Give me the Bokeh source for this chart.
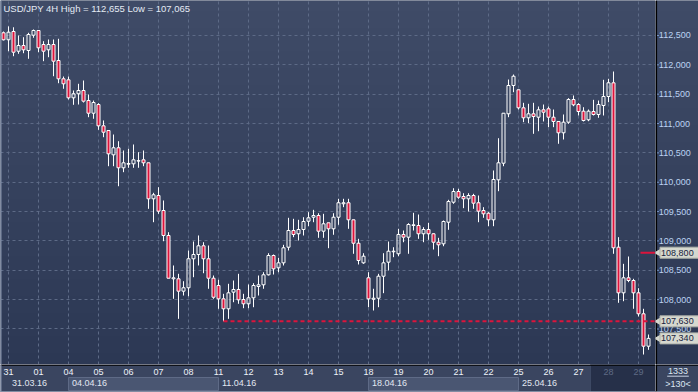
import numpy as np
from bokeh.plotting import figure
from bokeh.models import Range1d, FixedTicker, Label, Grid, ColumnDataSource
from bokeh.layouts import column, row
from bokeh.embed import file_html
from bokeh.resources import INLINE
from bokeh.core.properties import value

# ---------------- data ----------------
symbol = "USD/JPY"
timeframe = "4H"
opens = [112.546, 112.427, 112.568, 112.232, 112.329, 112.244, 112.505, 112.585, 112.346, 112.256,
         112.346, 112.074, 111.762, 111.745, 111.438, 111.507, 111.563, 111.392, 111.176, 111.324,
         110.961, 110.881, 110.467, 110.587, 110.246, 110.307, 110.314, 110.360, 110.382, 110.331,
         109.718, 109.774, 109.518, 109.093, 108.355, 108.355, 108.144, 108.202, 108.696, 108.769,
         108.917, 108.696, 108.365, 108.241, 108.014, 107.844, 108.127, 108.173, 108.002, 107.929,
         108.031, 108.224, 108.253, 108.423, 108.752, 108.542, 108.627, 108.893, 109.178, 109.122,
         109.195, 109.336, 109.404, 109.433, 109.166, 109.309, 109.207, 109.404, 109.633, 109.650,
         109.360, 108.961, 108.627, 108.372, 108.007, 108.024, 108.399, 108.638, 108.815, 108.781,
         109.110, 109.064, 109.263, 109.263, 109.122, 109.195, 109.122, 108.978, 108.951, 109.319,
         109.660, 109.842, 109.757, 109.718, 109.774, 109.650, 109.518, 109.472, 109.360, 110.041,
         110.324, 111.166, 111.648, 111.575, 111.268, 111.098, 111.166, 111.108, 111.234, 111.251,
         111.108, 111.035, 110.842, 111.023, 111.409, 111.324, 111.210, 111.064, 111.205, 111.154,
         111.307, 111.461, 111.694, 108.893, 108.116, 108.372, 108.326, 108.116, 107.759, 107.207]
highs = [112.568, 112.655, 112.640, 112.500, 112.471, 112.546, 112.602, 112.590, 112.403, 112.432,
         112.432, 112.444, 111.801, 111.801, 111.563, 111.677, 111.733, 111.495, 111.392, 111.346,
         111.052, 110.885, 110.813, 110.699, 110.541, 110.570, 110.643, 110.512, 110.541, 110.335,
         109.820, 109.915, 109.689, 109.149, 108.582, 108.440, 108.314, 108.837, 108.990, 109.093,
         108.978, 108.922, 108.411, 108.338, 108.099, 108.270, 108.326, 108.440, 108.099, 108.258,
         108.280, 108.411, 108.467, 108.791, 108.769, 108.713, 108.934, 109.394, 109.377, 109.360,
         109.404, 109.490, 109.530, 109.472, 109.462, 109.312, 109.472, 109.718, 109.718, 109.718,
         109.365, 109.036, 108.791, 108.467, 108.185, 108.440, 108.791, 108.990, 108.893, 109.207,
         109.178, 109.302, 109.479, 109.450, 109.234, 109.309, 109.132, 109.053, 109.348, 109.701,
         109.898, 109.888, 109.813, 109.813, 109.803, 109.774, 109.575, 109.490, 110.200, 110.750,
         111.180, 111.750, 111.835, 111.580, 111.353, 111.336, 111.353, 111.290, 111.324, 111.290,
         111.239, 111.040, 111.154, 111.432, 111.478, 111.346, 111.278, 111.239, 111.404, 111.392,
         111.745, 111.762, 111.886, 109.064, 108.610, 108.735, 108.355, 108.195, 107.844, 107.406]
lows = [112.415, 112.232, 112.147, 112.188, 112.198, 112.103, 112.461, 112.215, 112.062, 112.130,
        111.806, 111.687, 111.592, 111.409, 111.319, 111.324, 111.358, 111.108, 111.081, 110.893,
        110.767, 110.273, 110.273, 109.932, 110.171, 110.246, 110.246, 110.246, 110.273, 109.547,
        109.319, 109.462, 108.995, 108.360, 108.014, 107.673, 108.070, 108.058, 108.382, 108.582,
        108.450, 108.185, 108.014, 107.844, 107.630, 107.673, 107.956, 107.929, 107.854, 107.854,
        107.871, 108.070, 108.185, 108.411, 108.428, 108.467, 108.582, 108.837, 109.064, 109.007,
        109.093, 109.251, 109.319, 109.053, 109.053, 108.876, 109.105, 109.275, 109.575, 109.207,
        108.781, 108.599, 108.610, 107.871, 107.815, 107.871, 108.110, 108.496, 108.723, 108.740,
        108.978, 108.781, 109.178, 109.036, 108.978, 109.019, 108.854, 108.740, 108.910, 109.190,
        109.633, 109.718, 109.558, 109.501, 109.547, 109.319, 109.394, 109.251, 109.251, 109.847,
        110.273, 111.108, 111.534, 111.239, 111.023, 111.006, 110.825, 110.869, 111.035, 110.938,
        110.938, 110.655, 110.728, 110.995, 111.295, 111.137, 111.035, 111.040, 111.137, 111.098,
        111.137, 111.363, 108.781, 107.946, 107.973, 108.297, 107.844, 107.713, 107.065, 107.145]
closes = [112.427, 112.556, 112.215, 112.329, 112.256, 112.517, 112.585, 112.290, 112.232, 112.346,
          112.062, 111.762, 111.677, 111.438, 111.507, 111.563, 111.381, 111.176, 111.358, 110.961,
          110.852, 110.484, 110.587, 110.246, 110.331, 110.319, 110.382, 110.368, 110.331, 109.718,
          109.786, 109.507, 109.093, 108.365, 108.372, 108.144, 108.202, 108.696, 108.769, 108.917,
          108.696, 108.365, 108.041, 108.014, 107.844, 108.116, 108.173, 107.997, 107.929, 108.031,
          108.241, 108.253, 108.423, 108.752, 108.525, 108.627, 108.883, 109.178, 109.110, 109.195,
          109.331, 109.394, 109.433, 109.166, 109.292, 109.207, 109.404, 109.650, 109.650, 109.360,
          108.961, 108.667, 108.740, 108.014, 108.024, 108.399, 108.627, 108.825, 108.825, 109.110,
          109.064, 109.280, 109.275, 109.122, 109.195, 109.122, 108.978, 108.934, 109.331, 109.672,
          109.842, 109.745, 109.718, 109.774, 109.643, 109.507, 109.462, 109.360, 110.047, 110.331,
          111.176, 111.648, 111.806, 111.268, 111.098, 111.166, 111.120, 111.234, 111.193, 111.108,
          111.035, 110.842, 111.023, 111.409, 111.319, 111.205, 111.052, 111.210, 111.154, 111.324,
          111.461, 111.694, 108.883, 108.116, 108.372, 108.326, 108.116, 107.759, 107.207, 107.340]

day_labels = ["31", "01", "04", "05", "06", "07", "08", "11", "12", "13", "14", "15",
              "18", "19", "20", "21", "22", "25", "26", "27", "28", "29"]
week_labels = ["31.03.16", "04.04.16", "11.04.16", "18.04.16", "25.04.16"]
week_first_day = [0, 2, 7, 12, 17]          # index into day_labels
price_ticks = [107.5, 108.0, 108.5, 109.0, 109.5, 110.0, 110.5, 111.0, 111.5, 112.0, 112.5]
support_level = 107.630
support_from_bar = 44
marker_level = 108.800
total_bars = 1333

# ---------------- style / layout ----------------
FONT = "Liberation Sans"
RED = "#dc143c"
BG_TOP = (63, 75, 103)
BG_BOT = (44, 56, 84)
BG_MID = "#36425f"
STRIP = "#3a4560"
GRID = "#5d6a86"
TAG = "#d6d8cf"
AXIS_TXT = "#bcd3f2"

n = len(closes)
bars = list(range(n))
bars_per_day = 6
day_pos = [1 + bars_per_day * j for j in range(len(day_labels))]
X0, X1 = -0.6, n + 0.4
Y0, Y1 = 106.895, 113.096
MAIN_W, AX_W, MAIN_H, STRIP_H = 655, 43, 364, 28

def fmt(v):
    return f"{v:.3f}".replace(".", ",")

def gradient_image(fig, x0, x1):
    H = 64
    img = np.zeros((H, 2), dtype=np.uint32)
    view = img.view(dtype=np.uint8).reshape((H, 2, 4))
    for i in range(H):
        t = i / (H - 1)
        for ch in range(3):
            view[i, :, ch] = int(round(BG_BOT[ch] + (BG_TOP[ch] - BG_BOT[ch]) * t))
        view[i, :, 3] = 255
    fig.image_rgba(image=[img], x=x0, y=Y0, dw=x1 - x0, dh=Y1 - Y0, level="image")

def bare(fig, bg):
    fig.background_fill_color = bg
    fig.border_fill_color = bg
    fig.outline_line_color = None
    fig.grid.visible = False

# ---------------- main price panel ----------------
p = figure(width=MAIN_W, height=MAIN_H, x_range=Range1d(X0, X1), y_range=Range1d(Y0, Y1),
           output_backend="svg", toolbar_location=None, x_axis_location=None,
           y_axis_location=None, min_border=0)
bare(p, BG_MID)
gradient_image(p, X0, X1)

p.add_layout(Grid(dimension=0, ticker=FixedTicker(ticks=day_pos), grid_line_color=GRID,
                  grid_line_dash="3 3", grid_line_width=1))
p.add_layout(Grid(dimension=1, ticker=FixedTicker(ticks=price_ticks), grid_line_color=GRID,
                  grid_line_dash="3 3", grid_line_width=1))

body_top = [max(o, c) for o, c in zip(opens, closes)]
body_bot = [min(o, c) for o, c in zip(opens, closes)]
down = [c < o for o, c in zip(opens, closes)]
src = ColumnDataSource(dict(x=bars, high=highs, low=lows, top=body_top, bot=body_bot,
                            fill=[RED if d else BG_MID for d in down],
                            alpha=[1.0 if d else 0.0 for d in down]))
p.segment(x0="x", y0="high", x1="x", y1="top", source=src, line_color="white", line_width=1)
p.segment(x0="x", y0="bot", x1="x", y1="low", source=src, line_color="white", line_width=1)
p.vbar(x="x", top="top", bottom="bot", width=0.6, source=src, fill_color="fill",
       fill_alpha="alpha", line_color="white", line_width=1)

p.segment(x0=[support_from_bar], y0=[support_level], x1=[X1], y1=[support_level],
          line_color=RED, line_width=2, line_dash="4 3")
p.segment(x0=[n - 2.6], y0=[marker_level], x1=[X1], y1=[marker_level],
          line_color=RED, line_width=2)
p.segment(x0=[X0], y0=[Y0], x1=[X0], y1=[Y1], line_color="#8391ab", line_width=2)

title_y = Y1 - (Y1 - Y0) * 8.3 / MAIN_H
p.add_layout(Label(x=X0, y=title_y, x_offset=3,
                   text=f"{symbol} {timeframe} High = {fmt(max(highs))} Low = {fmt(min(lows))}",
                   text_font=FONT, text_font_size="9.5px", text_color="#e4eaf4",
                   text_baseline="middle", text_align="left"))

# ---------------- price scale panel (right) ----------------
pa = figure(width=AX_W, height=MAIN_H, x_range=Range1d(0, AX_W), y_range=p.y_range,
            output_backend="svg", toolbar_location=None, x_axis_location=None,
            y_axis_location=None, min_border=0)
bare(pa, BG_MID)
gradient_image(pa, 0, AX_W)
pa.quad(left=[0], right=[1.6], bottom=[Y0], top=[Y1], fill_color="black", line_color=None)
pa.segment(x0=[1.6] * len(price_ticks), y0=price_ticks, x1=[3.4] * len(price_ticks),
           y1=price_ticks, line_color="#7f9fd4", line_width=1)
pa.text(x=[3.3] * len(price_ticks), y=price_ticks, text=[fmt(t) for t in price_ticks],
        text_color=AXIS_TXT, text_align="left", text_baseline="middle",
        text_font=value(FONT), text_font_size="9px")
tag_levels = [marker_level, support_level, closes[-1]]
pa.segment(x0=[0], y0=[support_level], x1=[2], y1=[support_level], line_color=RED, line_width=2)
pa.scatter(x=[2.9] * 3, y=tag_levels, marker="triangle", angle=np.pi / 2, size=8,
           fill_color=TAG, line_color=None)
pa.rect(x=[24] * 3, y=tag_levels, width=[39] * 3, height=[11] * 3, height_units="screen",
        fill_color=TAG, line_color="#aeb2aa", line_width=1)
pa.text(x=[5.6] * 3, y=tag_levels, text=[fmt(v) for v in tag_levels], text_color="#17223d",
        text_align="left", text_baseline="middle", text_font=value(FONT),
        text_font_size="9px")

# ---------------- date strip ----------------
p2 = figure(width=MAIN_W, height=STRIP_H, x_range=p.x_range, y_range=Range1d(0, 28),
            output_backend="svg", toolbar_location=None, x_axis_location=None,
            y_axis_location=None, min_border=0)
bare(p2, STRIP)
wk_left = [day_pos[week_first_day[i]] for i in (1, 3)]
wk_right = [day_pos[week_first_day[i + 1]] for i in (1, 3)]
p2.quad(left=wk_left, right=wk_right, bottom=[2] * 2, top=[15] * 2,
        fill_color="#4a5672", line_color="#5e6a86", line_width=1)
dim_from = n - 12.6
p2.quad(left=[dim_from], right=[X1], bottom=[0], top=[28], fill_color="#263049",
        line_color="#3d4964", line_width=1)
p2.quad(left=[X0], right=[X1], bottom=[26.8], top=[28], fill_color="black", line_color=None)
p2.quad(left=[X0], right=[X1], bottom=[0], top=[1.2], fill_color="#9aa4b8", line_color=None)
p2.segment(x0=[X0], y0=[0], x1=[X0], y1=[28], line_color="#8391ab", line_width=2)

dsrc = ColumnDataSource(dict(x=day_pos, y=[20.3] * len(day_pos), t=day_labels,
                             c=["#5f6b85" if d > dim_from else "#eef2f8" for d in day_pos]))
p2.text(x="x", y="y", text="t", source=dsrc, text_color="c", text_align="center",
        text_baseline="middle", text_font=value(FONT), text_font_size="9px")
wsrc = ColumnDataSource(dict(x=[day_pos[j] + 0.7 for j in week_first_day],
                             y=[9.3] * len(week_labels), t=week_labels))
p2.text(x="x", y="y", text="t", source=wsrc, text_color="#e2e8f2", text_align="left",
        text_baseline="middle", text_font=value(FONT), text_font_size="9px")

# ---------------- corner ----------------
p3 = figure(width=AX_W, height=STRIP_H, x_range=Range1d(0, AX_W), y_range=Range1d(0, 28),
            output_backend="svg", toolbar_location=None, x_axis_location=None,
            y_axis_location=None, min_border=0)
bare(p3, STRIP)
p3.quad(left=[0], right=[1.6], bottom=[0], top=[28], fill_color="black", line_color=None)
p3.quad(left=[0], right=[AX_W], bottom=[26.8], top=[28], fill_color="black", line_color=None)
p3.quad(left=[0], right=[AX_W], bottom=[0], top=[1.2], fill_color="#9aa4b8", line_color=None)
p3.segment(x0=[11.7], y0=[16.3], x1=[33.3], y1=[16.3], line_color="#c8d4e4", line_width=1)
p3.text(x=[22.5, 22.5], y=[22, 8.7], text=[str(total_bars), f">{n}<"], text_color="#dce6f2",
        text_align="center", text_baseline="middle", text_font=value(FONT),
        text_font_size="9px")

layout = column(row(p, pa, spacing=0), row(p2, p3, spacing=0), spacing=0)
open("out.html", "w").write(file_html(layout, INLINE))
